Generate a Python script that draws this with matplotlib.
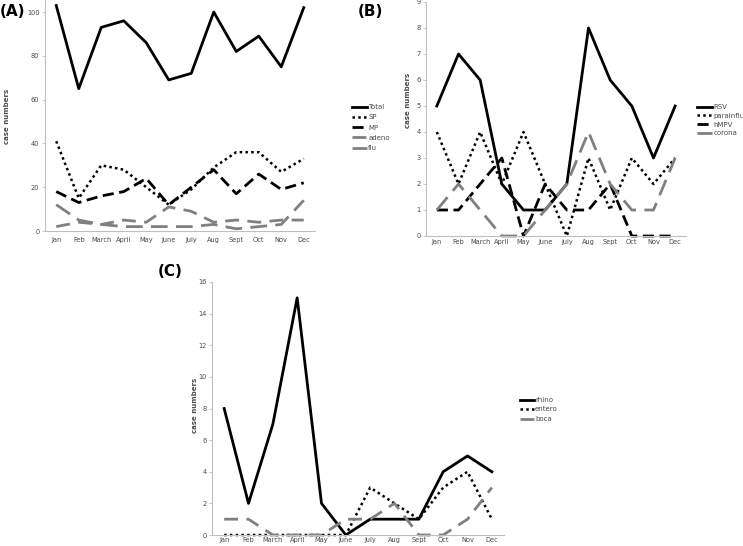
import matplotlib
matplotlib.use("Agg")
import matplotlib.pyplot as plt

plt.rcParams['font.family'] = ['DejaVu Sans']

months = ["Jan", "Feb", "March", "April", "May", "June", "July", "Aug", "Sept", "Oct", "Nov", "Dec"]

# Panel A
total = [103, 65, 93, 96, 86, 69, 72, 100, 82, 89, 75, 102]
sp = [41, 15, 30, 28, 20, 12, 19, 29, 36, 36, 27, 33]
mp = [18, 13, 16, 18, 24, 12, 20, 28, 17, 26, 19, 22]
adeno = [2, 4, 3, 5, 4, 11, 9, 4, 5, 4, 5, 5]
flu = [12, 5, 3, 2, 2, 2, 2, 3, 1, 2, 3, 14]

# Panel B
rsv = [5, 7, 6, 2, 1, 1, 2, 8, 6, 5, 3, 5]
parainfluenza = [4, 2, 4, 2, 4, 2, 0, 3, 1, 3, 2, 3]
hmpv = [1, 1, 2, 3, 0, 2, 1, 1, 2, 0, 0, 0]
corona = [1, 2, 1, 0, 0, 1, 2, 4, 2, 1, 1, 3]

# Panel C
rhino = [8, 2, 7, 15, 2, 0, 1, 1, 1, 4, 5, 4]
entero = [0, 0, 0, 0, 0, 0, 3, 2, 1, 3, 4, 1]
boca = [1, 1, 0, 0, 0, 1, 1, 2, 0, 0, 1, 3]

W, H = 743, 546
fig = plt.figure(figsize=(W / 100, H / 100), dpi=100)


def px_axes(left, right, bottom, top):
    return fig.add_axes([left / W, 1 - bottom / H, (right - left) / W, (bottom - top) / H])


GREY = "#808080"
TXT = "#4a4a4a"
styles = {
    "solid": dict(color="black", lw=2.0, linestyle="-"),
    "dot": dict(color="black", lw=1.8, linestyle=(0, (1, 1.3))),
    "dash": dict(color="black", lw=2.0, linestyle=(0, (4, 2))),
    "gdash": dict(color=GREY, lw=2.0, linestyle=(0, (5, 3))),
    "glong": dict(color=GREY, lw=2.0, linestyle=(0, (6, 3))),
}


def style_ax(ax, ymax, ticks, xpad):
    ax.set_xlim(-0.5, 11.5)
    ax.set_ylim(0, ymax)
    ax.set_yticks(ticks)
    ax.set_xticks(range(12))
    ax.set_xticklabels(months)
    for s in ["top", "right"]:
        ax.spines[s].set_visible(False)
    for s in ["left", "bottom"]:
        ax.spines[s].set_color("#bfbfbf")
        ax.spines[s].set_linewidth(0.8)
    ax.tick_params(axis="both", labelsize=4.8, colors="#bfbfbf", labelcolor=TXT, length=2, width=0.6, pad=2)
    ax.tick_params(axis="x", length=0, pad=xpad)
    ax.set_facecolor("none")


x = list(range(12))

# ---- A
axA = px_axes(45, 315, 231, 0)
axA.plot(x, total, label="Total", **styles["solid"])
axA.plot(x, sp, label="SP", **styles["dot"])
axA.plot(x, mp, label="MP", **styles["dash"])
axA.plot(x, adeno, label="adeno", **styles["gdash"])
axA.plot(x, flu, label="flu", **styles["glong"])
style_ax(axA, 105.5, [0, 20, 40, 60, 80, 100], 4)
for l in axA.lines:
    l.set_clip_on(False)
legA = fig.legend(handles=axA.lines, loc="upper left", bbox_to_anchor=(352 / W, 1 - 104 / H),
                  frameon=False, fontsize=5, handlelength=2.2, handletextpad=0.15,
                  labelspacing=0.62, borderpad=0, borderaxespad=0)
for t in legA.get_texts():
    t.set_color(TXT)
fig.text(7 / W, 1 - 116 / H, "case numbers", rotation=90, fontsize=5, fontweight="bold",
         color=TXT, ha="center", va="center")
fig.text(0 / W, 1 - 11 / H, "(A)", fontsize=11, fontweight="bold", ha="left", va="center")

# ---- B
axB = px_axes(426, 686, 236, 2)
axB.plot(x, rsv, label="RSV", **styles["solid"])
axB.plot(x, parainfluenza, label="parainfluenza", **styles["dot"])
axB.plot(x, hmpv, label="hMPV", **styles["dash"])
axB.plot(x, corona, label="corona", **styles["glong"])
style_ax(axB, 9, list(range(10)), 2)
for l in axB.lines:
    l.set_clip_on(False)
legB = fig.legend(handles=axB.lines, loc="upper left", bbox_to_anchor=(697 / W, 1 - 104 / H),
                  frameon=False, fontsize=5, handlelength=2.2, handletextpad=0.15,
                  labelspacing=0.4, borderpad=0, borderaxespad=0)
for t in legB.get_texts():
    t.set_color(TXT)
fig.text(408 / W, 1 - 100 / H, "case numbers", rotation=90, fontsize=5, fontweight="bold",
         color=TXT, ha="center", va="center")
fig.text(358 / W, 1 - 11 / H, "(B)", fontsize=11, fontweight="bold", ha="left", va="center")

# ---- C
axC = px_axes(212, 504, 535, 282)
axC.plot(x, rhino, label="rhino", **styles["solid"])
axC.plot(x, entero, label="entero", **styles["dot"])
axC.plot(x, boca, label="boca", **styles["gdash"])
style_ax(axC, 16, list(range(0, 17, 2)), 1.5)
for l in axC.lines:
    l.set_clip_on(False)
legC = fig.legend(handles=axC.lines, loc="upper left", bbox_to_anchor=(520 / W, 1 - 397 / H),
                  frameon=False, fontsize=5, handlelength=2.0, handletextpad=0.15,
                  labelspacing=0.5, borderpad=0, borderaxespad=0)
for t in legC.get_texts():
    t.set_color(TXT)
fig.text(195 / W, 1 - 405 / H, "case numbers", rotation=90, fontsize=5, fontweight="bold",
         color=TXT, ha="center", va="center")
fig.text(158 / W, 1 - 271 / H, "(C)", fontsize=11, fontweight="bold", ha="left", va="center")

fig.savefig("out.png", dpi=100, facecolor="white")
